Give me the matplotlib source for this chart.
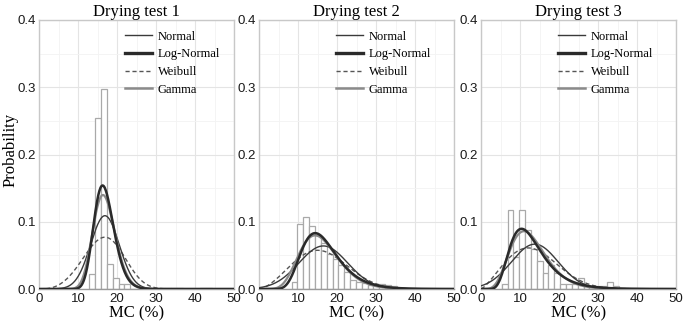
import math
import numpy as np
import matplotlib
matplotlib.use('Agg')
import matplotlib.pyplot as plt
from matplotlib.lines import Line2D

titles = ['Drying test 1', 'Drying test 2', 'Drying test 3']
labels = ['Normal', 'Log-Normal', 'Weibull', 'Gamma']

# histogram: left edge of first bin, bin width (MC %), bar heights
bin_start = [12.9, 8.35, 5.3]
bin_width = 1.5
hist1 = [0.022, 0.255, 0.298, 0.037, 0.016, 0.0075, 0.0075, 0, 0, 0, 0, 0,
         0.001, 0.002, 0.002, 0.002, 0, 0, 0, 0.002, 0.002]
hist2 = [0.011, 0.096, 0.107, 0.093, 0.081, 0.068, 0.052, 0.045, 0.035, 0.025,
         0.014, 0.011, 0.009, 0.006, 0.007, 0.007, 0.006, 0.004, 0.002, 0.001]
hist3 = [0.007, 0.118, 0.047, 0.118, 0.088, 0.060, 0.042, 0.024, 0.035, 0.024,
         0.007, 0.007, 0.007, 0.017, 0.006, 0.005, 0.005, 0.004, 0.011, 0.005, 0.002]
hists = [hist1, hist2, hist3]

# fitted distribution parameters
normal_mean = [16.9, 16.5, 13.8]
normal_sd = [3.66, 6.23, 5.98]
lognorm_mu = [2.816, 2.768, 2.499]
lognorm_sigma = [0.157, 0.317, 0.396]
weibull_k = [3.7, 2.6, 2.3]
weibull_scale = [18.4, 18.1, 15.5]
gamma_a = [34.2, 9.4, 6.8]
gamma_theta = [0.494, 1.71, 1.9]


def pdf_normal(x, m, s):
    return np.exp(-(x - m) ** 2 / (2 * s ** 2)) / (s * math.sqrt(2 * math.pi))


def pdf_lognormal(x, mu, s):
    return np.exp(-(np.log(x) - mu) ** 2 / (2 * s ** 2)) / (x * s * math.sqrt(2 * math.pi))


def pdf_weibull(x, k, lam):
    return k / lam * (x / lam) ** (k - 1) * np.exp(-(x / lam) ** k)


def pdf_gamma(x, a, th):
    return np.exp((a - 1) * np.log(x) - x / th - math.lgamma(a) - a * math.log(th))


serif = 'Liberation Serif'
sans = 'Liberation Sans'

fig = plt.figure(figsize=(6.85, 3.24), dpi=100)
lefts = [39, 259, 481]
leg_x = [0.44, 0.394, 0.394]
x = np.linspace(0.05, 50, 600)

for i in range(3):
    ax = fig.add_axes([lefts[i] / 685, 35 / 324, 195 / 685, 269 / 324])
    edges = bin_start[i] + bin_width * np.arange(len(hists[i]))
    ax.bar(edges, hists[i], width=bin_width, align='edge', facecolor='white',
           edgecolor='#a9a9a9', linewidth=0.9, zorder=2)

    ax.plot(x, pdf_weibull(x, weibull_k[i], weibull_scale[i]), color='#555555',
            linestyle=(0, (3, 2)), linewidth=1.0, zorder=3)
    ax.plot(x, pdf_normal(x, normal_mean[i], normal_sd[i]), color='#3a3a3a',
            linewidth=1.0, zorder=4)
    ax.plot(x, pdf_gamma(x, gamma_a[i], gamma_theta[i]), color='#8a8a8a',
            linewidth=1.6, zorder=4)
    ax.plot(x, pdf_lognormal(x, lognorm_mu[i], lognorm_sigma[i]), color='#2a2a2a',
            linewidth=1.8, zorder=5)

    ax.set_xlim(0, 50)
    ax.set_ylim(0, 0.4)
    ax.set_xticks([0, 10, 20, 30, 40, 50])
    ax.set_yticks([0.0, 0.1, 0.2, 0.3, 0.4])
    ax.set_yticklabels(['0.0', '0.1', '0.2', '0.3', '0.4'])
    ax.set_xticks([5, 15, 25, 35, 45], minor=True)
    ax.set_yticks([0.05, 0.15, 0.25, 0.35], minor=True)
    ax.grid(True, which='major', color='#e4e4e4', linewidth=0.8, zorder=0)
    ax.grid(True, which='minor', color='#f3f3f3', linewidth=0.6, zorder=0)
    ax.set_axisbelow(True)
    ax.tick_params(which='both', length=0)
    ax.tick_params(axis='x', pad=3, labelsize=9.5)
    ax.tick_params(axis='y', pad=2, labelsize=9.5)
    for t in ax.get_xticklabels() + ax.get_yticklabels():
        t.set_fontfamily(sans)
        t.set_color('#1a1a1a')
    for sp in ax.spines.values():
        sp.set_color('#c8c8c8')
        sp.set_linewidth(1.0)
    ax.spines['bottom'].set_color('#9a9a9a')

    ax.set_title(titles[i], fontfamily=serif, fontsize=12, pad=3)
    ax.set_xlabel('MC (%)', fontfamily=serif, fontsize=12, labelpad=0)

    handles = [Line2D([], [], color='#3a3a3a', linewidth=1.0),
               Line2D([], [], color='#2a2a2a', linewidth=2.4),
               Line2D([], [], color='#555555', linewidth=1.0, linestyle=(0, (3, 2))),
               Line2D([], [], color='#8a8a8a', linewidth=1.8)]
    ax.legend(handles, labels, loc='upper left', bbox_to_anchor=(leg_x[i], 0.96),
              frameon=False, borderpad=0, borderaxespad=0, handlelength=2.2,
              handletextpad=0.45, labelspacing=0.45,
              prop={'family': serif, 'size': 9})

fig.text(10.5 / 685, 1 - 150 / 324, 'Probability', rotation=90, ha='center', va='center',
         fontfamily=serif, fontsize=12)

plt.savefig('out.png', dpi=100)
